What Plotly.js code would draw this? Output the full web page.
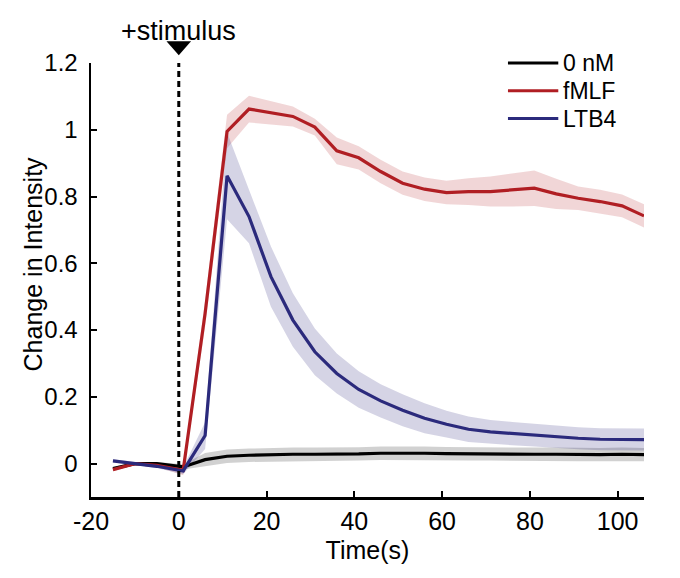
<!DOCTYPE html>
<html>
<head>
<meta charset="utf-8">
<script src="https://cdn.plot.ly/plotly-3.0.1.min.js"></script>
<style>
  html, body { margin: 0; padding: 0; background: #fff; }
  #myDiv { width: 680px; height: 578px; }
</style>
</head>
<body>
<div id="myDiv"></div>
<script>
// sample times (s)
var times = [-15, -10, -5, 1, 6, 11, 16, 21, 26, 31, 36, 41, 46, 51, 56, 61, 66, 71, 76, 81, 86, 91, 96, 101, 106]

// 0 nM control
var zeroMean = [-0.015, 0.0, 0.0, -0.01, 0.012, 0.022, 0.025, 0.027, 0.028, 0.028, 0.028, 0.029, 0.031, 0.032,
                0.031, 0.030, 0.029, 0.029, 0.028, 0.028, 0.028, 0.027, 0.027, 0.028, 0.027]
var zeroErr  = [0.005, 0.005, 0.005, 0.008, 0.02, 0.02, 0.02, 0.02, 0.02, 0.02, 0.02, 0.02, 0.02, 0.02,
                0.02, 0.02, 0.02, 0.02, 0.02, 0.02, 0.02, 0.02, 0.02, 0.02, 0.02]

// fMLF
var fmlfMean = [-0.018, 0.0, -0.005, -0.02, 0.45, 0.995, 1.062, 1.052, 1.04, 1.008, 0.937, 0.916, 0.875, 0.840,
                0.822, 0.812, 0.815, 0.815, 0.820, 0.825, 0.808, 0.795, 0.785, 0.772, 0.742]
var fmlfErr  = [0.005, 0.005, 0.005, 0.015, 0.04, 0.05, 0.04, 0.035, 0.03, 0.025, 0.04, 0.035, 0.035, 0.035,
                0.035, 0.035, 0.04, 0.045, 0.05, 0.053, 0.045, 0.035, 0.035, 0.034, 0.035]

// LTB4
var ltbMean = [0.008, 0.0, -0.008, -0.022, 0.084, 0.862, 0.74, 0.56, 0.43, 0.335, 0.27, 0.222, 0.188, 0.16,
               0.136, 0.118, 0.103, 0.095, 0.09, 0.085, 0.08, 0.076, 0.073, 0.072, 0.072]
var ltbErr  = [0.005, 0.005, 0.005, 0.01, 0.04, 0.13, 0.08, 0.09, 0.08, 0.07, 0.06, 0.055, 0.05, 0.048,
               0.045, 0.04, 0.038, 0.036, 0.035, 0.034, 0.034, 0.033, 0.033, 0.033, 0.033]

var xTicks = [-20, 0, 20, 40, 60, 80, 100]
var xTickText = ['-20', '0', '20', '40', '60', '80', '100']
var yTicks = [0, 0.2, 0.4, 0.6, 0.8, 1, 1.2]

var seriesNames = ['0 nM', 'fMLF', 'LTB4']
var seriesColors = ['#000000', '#B01E23', '#2B2A7C']
var bandColors = ['rgba(0,0,0,0.18)', 'rgba(176,30,35,0.18)', 'rgba(43,42,124,0.2)']
var means = [zeroMean, fmlfMean, ltbMean]
var errs = [zeroErr, fmlfErr, ltbErr]

var FONT = 'Liberation Sans, Arial, Helvetica, sans-serif'

// build shaded bands (mean +/- err)
function makeBand(mean, err, color) {
  var xs = times.slice()
  var ys = []
  for (var i = 0; i < times.length; i++) ys.push(mean[i] + err[i])
  for (var j = times.length - 1; j >= 0; j--) {
    xs.push(times[j])
    ys.push(mean[j] - err[j])
  }
  return {
    x: xs, y: ys, type: 'scatter', mode: 'lines',
    fill: 'toself', fillcolor: color,
    line: {width: 0}, hoverinfo: 'skip', showlegend: false
  }
}

var data = []
for (var s = 0; s < 3; s++) data.push(makeBand(means[s], errs[s], bandColors[s]))
for (var s = 0; s < 3; s++) {
  data.push({
    x: times, y: means[s], type: 'scatter', mode: 'lines',
    name: seriesNames[s], line: {color: seriesColors[s], width: 3.2}, showlegend: false
  })
}

// hand-made legend (long line samples like the original)
var legendRows = [1.0, 0.936, 0.872]
var shapes = [
  // stimulus marker
  {type: 'line', xref: 'x', yref: 'y', x0: 0, x1: 0, y0: -0.1, y1: 1.2,
   line: {color: '#000', width: 3, dash: '6px,4px'}},
  {type: 'path', xref: 'x', yref: 'paper', path: 'M -2.8,1.05 L 2.8,1.05 L 0,1.018 Z',
   fillcolor: '#000', line: {width: 0}}
]
var annotations = [
  {text: '+stimulus', xref: 'x', yref: 'paper', x: 0, y: 1.073, showarrow: false,
   xanchor: 'center', yanchor: 'middle', font: {family: FONT, size: 27, color: '#000'}},
  {text: 'Change in Intensity', xref: 'paper', yref: 'paper', x: -0.105, y: 0.538, textangle: -90,
   showarrow: false, xanchor: 'center', yanchor: 'middle', font: {family: FONT, size: 25, color: '#000'}}
]
for (var k = 0; k < 3; k++) {
  shapes.push({type: 'line', xref: 'paper', yref: 'paper', x0: 0.754, x1: 0.845,
    y0: legendRows[k], y1: legendRows[k], line: {color: seriesColors[k], width: 3}})
  annotations.push({text: seriesNames[k], xref: 'paper', yref: 'paper', x: 0.85, y: legendRows[k],
    showarrow: false, xanchor: 'left', yanchor: 'middle', font: {family: FONT, size: 23, color: '#000'}})
}

var layout = {
  width: 680, height: 578,
  margin: {l: 91, r: 36, t: 63, b: 81},
  paper_bgcolor: '#fff', plot_bgcolor: '#fff',
  font: {family: FONT, size: 24, color: '#000'},
  showlegend: false,
  xaxis: {
    range: [-20, 106], tickvals: xTicks, ticktext: xTickText,
    showgrid: false, zeroline: false, showline: true, linecolor: '#000', linewidth: 2.5,
    ticks: 'inside', ticklen: 6, tickwidth: 2, tickcolor: '#000', ticklabelstandoff: 0,
    tickfont: {family: FONT, size: 25},
    title: {text: 'Time(s)', font: {family: FONT, size: 25}, standoff: 8}
  },
  yaxis: {
    range: [-0.1, 1.2], tickvals: yTicks,
    showgrid: false, zeroline: false, showline: true, linecolor: '#000', linewidth: 2.5,
    ticks: 'inside', ticklen: 6, tickwidth: 2, tickcolor: '#000', ticklabelstandoff: 6,
    tickfont: {family: FONT, size: 24}
  },
  shapes: shapes,
  annotations: annotations
}

Plotly.newPlot('myDiv', data, layout, {displayModeBar: false, staticPlot: true})
</script>
</body>
</html>
